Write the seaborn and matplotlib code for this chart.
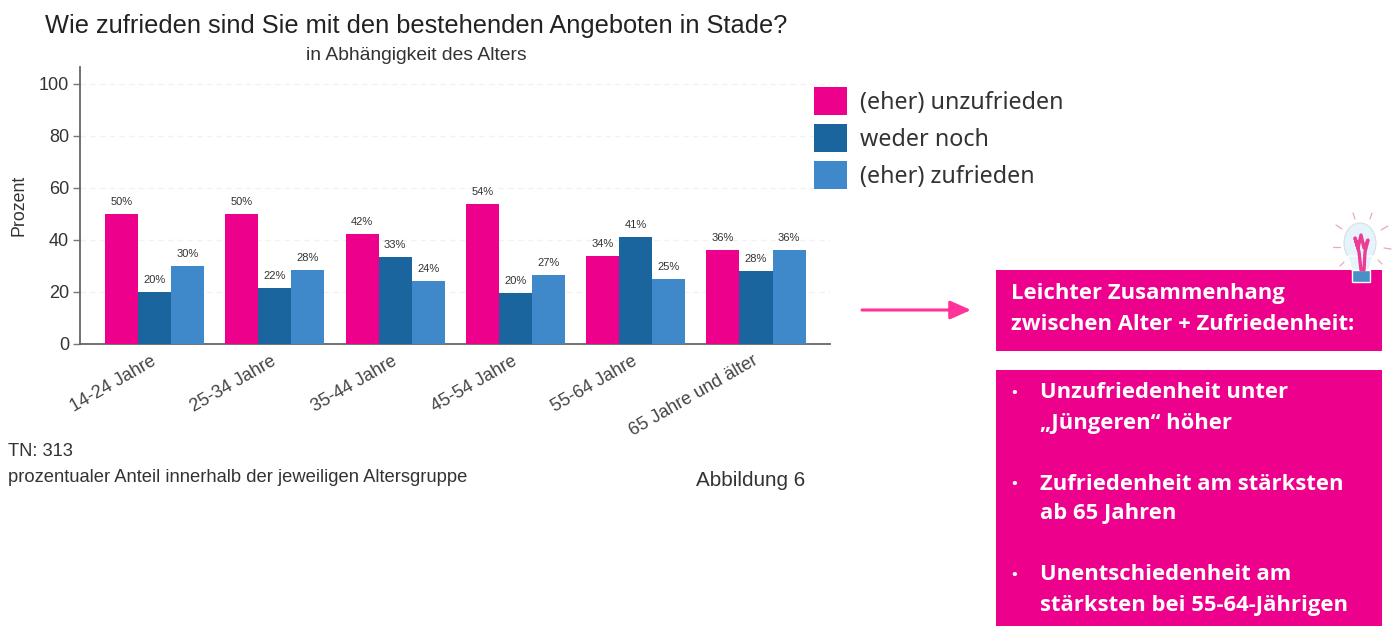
import matplotlib
matplotlib.use("Agg")
import matplotlib.pyplot as plt
from matplotlib.patches import Rectangle, Ellipse, Polygon
from matplotlib.transforms import ScaledTranslation
import pandas as pd
import seaborn as sns

age_groups = ["14-24 Jahre", "25-34 Jahre", "35-44 Jahre", "45-54 Jahre", "55-64 Jahre", "65 Jahre und älter"]
unzufrieden = [50, 50, 42.3, 53.8, 34, 36]
weder_noch = [20, 21.6, 33.3, 19.6, 41, 28]
zufrieden = [30, 28.3, 24.4, 26.6, 25, 36]
label_unzufrieden = ["50%", "50%", "42%", "54%", "34%", "36%"]
label_weder = ["20%", "22%", "33%", "20%", "41%", "28%"]
label_zufrieden = ["30%", "28%", "24%", "27%", "25%", "36%"]
series_names = ["(eher) unzufrieden", "weder noch", "(eher) zufrieden"]
colors = ["#EC008C", "#1A659E", "#3F88C9"]

df = pd.DataFrame({"Alter": age_groups, series_names[0]: unzufrieden,
                   series_names[1]: weder_noch, series_names[2]: zufrieden})
long_df = df.melt(id_vars="Alter", var_name="Antwort", value_name="Prozent")

sns.set_style("white")
plt.rcParams["font.family"] = ["Liberation Sans", "DejaVu Sans"]

W, H = 1400, 626
fig = plt.figure(figsize=(W / 100, H / 100), dpi=100)
ax = fig.add_axes([80 / W, 1 - 344 / H, 750 / W, 277 / H])

sns.barplot(data=long_df, x="Alter", y="Prozent", hue="Antwort", palette=colors,
            width=0.825, gap=0, saturation=1, linewidth=0, ax=ax, zorder=3)

for cont, labs in zip(ax.containers, [label_unzufrieden, label_weder, label_zufrieden]):
    ax.bar_label(cont, labels=labs, padding=5, fontsize=8, color="#333333")

ax.set_xlim(-0.62, 5.615)
ax.set_ylim(0, 106.5)
ax.set_yticks([0, 20, 40, 60, 80, 100])
ax.tick_params(axis="y", labelsize=13, length=5, width=1, color="#777777", labelcolor="#333333", pad=3, left=True)
ax.tick_params(axis="x", length=0, pad=6)
ax.set_xticks(range(6))
ax.set_xticklabels(age_groups, rotation=30, ha="right", rotation_mode="anchor", fontsize=13, color="#444444")
shift = ScaledTranslation(-4 / 100, 0, fig.dpi_scale_trans)
for lab in ax.get_xticklabels():
    lab.set_transform(lab.get_transform() + shift)
ax.set_xlabel("")
ax.set_ylabel("Prozent", fontsize=12.8, color="#333333", labelpad=8)
ax.yaxis.grid(True, color="#f2f2f2", linestyle=(0, (4, 3)), linewidth=1)
ax.set_axisbelow(True)
sns.despine(ax=ax)
for side in ["left", "bottom"]:
    ax.spines[side].set_color("#666666")
    ax.spines[side].set_linewidth(1.3)

handles, names = ax.get_legend_handles_labels()
ax.legend(handles, names, loc="upper left", bbox_to_anchor=(814 / W, 1 - 87 / H),
          bbox_transform=fig.transFigure, frameon=False, handlelength=1.43, handleheight=1.5,
          labelspacing=0.36, handletextpad=0.55, borderpad=0, borderaxespad=0,
          prop={"family": "Noto Sans", "size": 16.8}, labelcolor="#333333")

# rest of the slide, in pixel coordinates
over = fig.add_axes([0, 0, 1, 1], facecolor="none")
over.set_xlim(0, W)
over.set_ylim(H, 0)
over.axis("off")

over.text(416, 26.5, "Wie zufrieden sind Sie mit den bestehenden Angeboten in Stade?", ha="center", va="center",
          fontsize=18.3, color="#222222")
over.text(416, 56, "in Abhängigkeit des Alters", ha="center", va="center", fontsize=13.9, color="#333333")
over.text(8, 452, "TN: 313", va="center", fontsize=13.25, color="#333333")
over.text(8, 477, "prozentualer Anteil innerhalb der jeweiligen Altersgruppe", va="center", fontsize=13.25, color="#333333")
over.text(696, 480, "Abbildung 6", va="center", fontsize=14.9, color="#333333")

pink = "#EC008C"
over.annotate("", xy=(971, 310), xytext=(862, 310),
              arrowprops=dict(arrowstyle="-|>,head_length=0.9,head_width=0.4", mutation_scale=14, color="#FF3399",
                              lw=2.2, shrinkA=0, shrinkB=0))

# callout boxes
over.add_patch(Rectangle((996, 270), 386, 81, facecolor=pink, edgecolor="none", zorder=3))
over.add_patch(Rectangle((996, 370), 386, 256, facecolor=pink, edgecolor="none", zorder=3))
box_font = {"family": "Open Sans", "fontweight": "bold", "fontsize": 15.8, "color": "white", "va": "center", "zorder": 4}
over.text(1011, 294, "Leichter Zusammenhang", **box_font)
over.text(1011, 324, "zwischen Alter + Zufriedenheit:", **box_font)
bullets = [(393, "Unzufriedenheit unter", True), (423, "„Jüngeren“ höher", False),
           (484, "Zufriedenheit am stärksten", True), (514, "ab 65 Jahren", False),
           (575, "Unentschiedenheit am", True), (605, "stärksten bei 55-64-Jährigen", False)]
for y, line, has_bullet in bullets:
    if has_bullet:
        over.text(1011, y, "•", **{**box_font, "fontsize": 11})
    over.text(1040, y, line, **box_font)

# lightbulb on top of the first box
over.add_patch(Ellipse((1360, 243), 32, 40, facecolor="#E6F3FA", edgecolor="#d5dfe5", lw=0.8, zorder=5))
over.add_patch(Polygon([(1348, 256), (1373, 256), (1369, 270), (1352, 270)], facecolor="#E6F3FA", zorder=5))
over.add_patch(Polygon([(1352, 270), (1370, 270), (1370, 282), (1352, 282)], facecolor="#4A90C8", zorder=6))
over.plot([1361, 1359, 1355, 1358, 1361, 1364, 1368, 1365, 1364], [270, 252, 238, 248, 235, 248, 240, 252, 270],
          color="#EC3C94", lw=2.4, zorder=7)
for x0, y0, x1, y1 in [(1353, 213, 1355, 219), (1372, 213, 1370, 219), (1336, 225, 1342, 229), (1388, 226, 1381, 230),
                       (1333, 247, 1340, 247), (1391, 249, 1384, 248), (1340, 266, 1344, 262), (1382, 264, 1378, 260)]:
    over.plot([x0, x1], [y0, y1], color="#E8A8C0", lw=0.9, zorder=5)

fig.savefig("out.png", dpi=100, facecolor="white")
